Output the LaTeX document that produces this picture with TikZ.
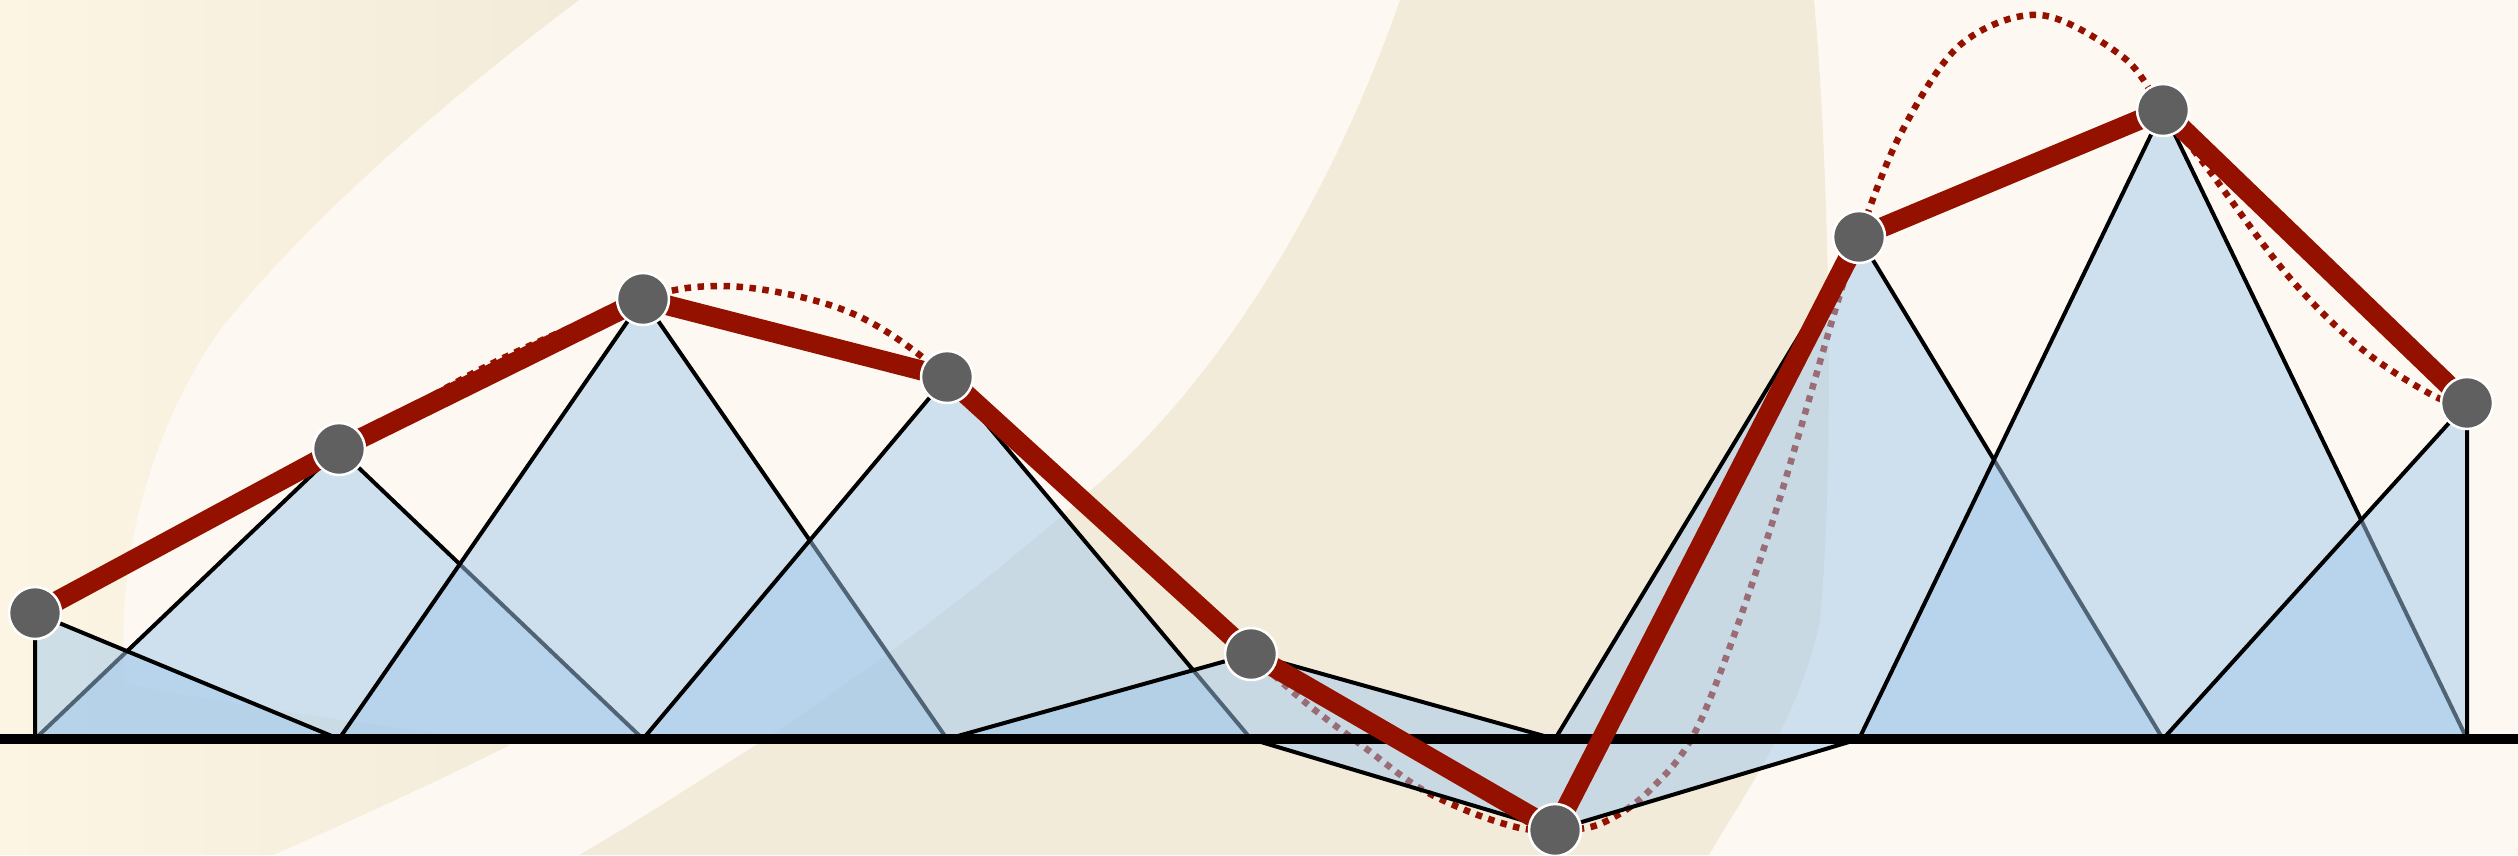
\documentclass[tikz,border=0pt]{standalone}
\usepackage{xcolor}
\usepackage{tikz}
\definecolor{bgCream}{HTML}{FDF9F2}
\definecolor{bgBeige}{HTML}{F3EBDA}
\definecolor{bgYel}{HTML}{FCF5E3}
\definecolor{hatBlue}{HTML}{A1C9EC}
\definecolor{fnRed}{HTML}{941100}
\definecolor{ptGray}{HTML}{606060}

\begin{document}
\begin{tikzpicture}[
  x=1pt, y=-1pt,
  hat/.style={fill=hatBlue, fill opacity=0.5, draw=black, line width=4pt, line join=round},
  interp/.style={draw=fnRed, line width=20pt, line join=round},
  truefn/.style={draw=fnRed, line width=6.5pt, dash pattern=on 6.5pt off 6.5pt},
  axis/.style={draw=black, line width=10pt},
  pt/.style={circle, fill=ptGray, draw=white, line width=2.5pt, minimum size=52pt, inner sep=0pt},
]
\useasboundingbox (0,0) rectangle (2518,855);
% background
\fill[bgCream] (0,0) rectangle (2518,855);
\shade[left color=bgYel, right color=bgBeige] (0,0) -- (579,0) .. controls (420,120) and (300,230) .. (220,330) .. controls (150,430) and (115,560) .. (125,683) .. controls (300,720) and (480,735) .. (510,745) .. controls (420,790) and (330,830) .. (273,855) -- (0,855) -- cycle;
\fill[bgBeige] (1400,0) -- (1814,0) .. controls (1828,150) and (1836,450) .. (1820,620) .. controls (1800,720) and (1740,800) .. (1709,855) -- (579,855) .. controls (640,820) and (700,780) .. (756,745) .. controls (900,650) and (1000,570) .. (1091,490) .. controls (1220,380) and (1330,200) .. (1400,0) -- cycle;
% grid points and samples
\foreach \i in {0,...,8} \coordinate (b\i) at ({35+304*\i},739);
\foreach \i/\y in {0/613, 1/449, 2/299, 3/377, 4/654, 5/830, 6/237, 7/110, 8/403}
  \coordinate (p\i) at ({35+304*\i},\y);
\coordinate (axL) at (0,739);
\coordinate (axR) at (2518,739);
% exact function (dotted)
\draw[truefn] plot[smooth, tension=0.55] coordinates {(p0) (p1) (491,364) (p2) (720,286) (801,297) (870,322) (p3) (1100,513) (p4) (1306,703) (1364,747) (1418,787) (1470,812) (1520,828) (p5) (1600,824) (1650,790) (1700,722) (1767,539) (1837,304) (p6) (1900,135) (1960,45) (2040,15) (2123,57) (p7) (2211,173) (2289,277) (2363,350) (2436,397) (p8)};
% hat functions
\foreach \i in {1,...,7}{
  \pgfmathtruncatemacro{\l}{\i-1}
  \pgfmathtruncatemacro{\r}{\i+1}
  \filldraw[hat] (b\l) -- (p\i) -- (b\r) -- cycle;
}
\filldraw[hat] (b7) -- (p8) -- (b8) -- cycle;
\filldraw[hat] (b0) -- (p0) -- (b1) -- cycle;
\draw[axis] (axL) -- (axR);
% interpolant
\draw[interp] (p0) \foreach \i in {1,...,8}{ -- (p\i) };
\foreach \i in {0,...,8} \node[pt] (n\i) at (p\i) {};
\end{tikzpicture}
\end{document}
